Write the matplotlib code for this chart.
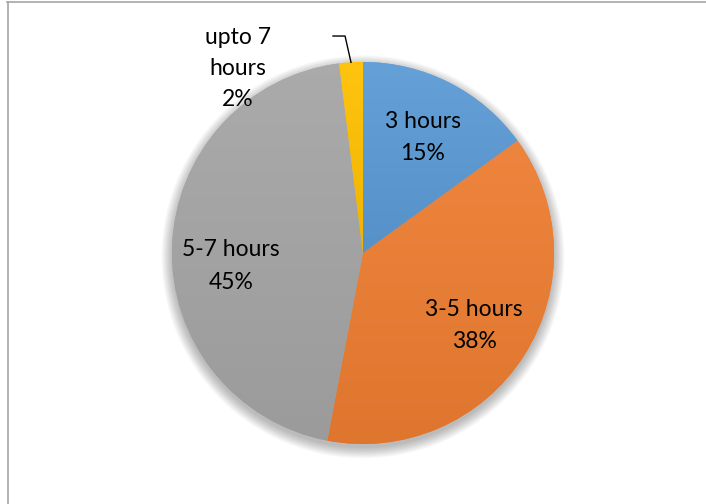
import matplotlib
matplotlib.use("Agg")
import matplotlib.pyplot as plt
import numpy as np
from matplotlib.colors import to_rgb
from matplotlib.lines import Line2D
from matplotlib.patches import Circle

# data
categories = ["3 hours", "3-5 hours", "5-7 hours", "upto 7 hours"]
shares = [15, 38, 45, 2]
colors = ["#5B9BD5", "#ED7D31", "#A5A5A5", "#FFC000"]

W, H = 706, 504
cx, cy, rad = 363, 253, 191  # pie centre / radius in pixels

plt.rcParams["font.family"] = ["Lato", "DejaVu Sans"]

fig = plt.figure(figsize=(W / 100, H / 100), dpi=100)
fig.patch.set_facecolor("white")
ax = fig.add_axes([(cx - rad) / W, (H - cy - rad) / H, 2 * rad / W, 2 * rad / H])

# soft shadow under the pie
for k in range(12):
    ax.add_patch(Circle((0, -0.02), 1.0 + 0.005 * k, color="black",
                        alpha=0.025, lw=0, zorder=0, clip_on=False))

wedges, _ = ax.pie(shares, colors=colors, startangle=90, counterclock=False,
                   radius=1, wedgeprops=dict(linewidth=0, zorder=1))


def shade(c, f):
    r = np.array(to_rgb(c))
    return r + (1 - r) * f if f > 0 else r * (1 + f)


# Excel-style vertical gradient on each slice
for w, c in zip(wedges, colors):
    v = w.get_path().vertices
    y0, y1 = v[:, 1].min(), v[:, 1].max()
    x0, x1 = v[:, 0].min(), v[:, 0].max()
    t = np.linspace(0, 1, 128)[:, None]
    grad = shade(c, 0.06) * (1 - t) + shade(c, -0.06) * t
    im = ax.imshow(grad[:, None, :].repeat(2, axis=1), extent=(x0, x1, y0, y1),
                   origin="upper", aspect="auto", zorder=2, interpolation="bilinear")
    im.set_clip_path(w)

# labels inside the big slices (small vertical nudges like Excel's placement)
nudge = [-0.01, -0.01, -0.09]
for w, name, s, dy in zip(wedges[:3], categories[:3], shares[:3], nudge):
    ang = np.deg2rad((w.theta1 + w.theta2) / 2)
    ax.text(0.69 * np.cos(ang), 0.69 * np.sin(ang) + dy, f"{name}\n{s}%",
            ha="center", va="center", fontsize=16.5, linespacing=1.7, zorder=5)

# small slice: label outside with leader line
w = wedges[3]
ang = np.deg2rad((w.theta1 + w.theta2) / 2)
ex, ey = np.cos(ang), np.sin(ang)
ax.plot([ex, -0.094, -0.157], [ey, 1.136, 1.136], color="black", lw=1,
        zorder=5, clip_on=False)
ax.text(-0.655, 0.965, "upto 7\nhours\n" + f"{shares[3]}%", ha="center",
        va="center", fontsize=16.5, linespacing=1.6, zorder=5)

ax.set_xlim(-1, 1)
ax.set_ylim(-1, 1)
ax.set_aspect("equal")
ax.axis("off")

# chart area border (only top and left visible in the crop)
fig.add_artist(Line2D([7 / W, 1], [1 - 1.5 / H, 1 - 1.5 / H], color="#A6A6A6", lw=1.2))
fig.add_artist(Line2D([7.5 / W, 7.5 / W], [0, 1 - 1.5 / H], color="#A6A6A6", lw=1.2))

fig.savefig("out.png", dpi=100)
